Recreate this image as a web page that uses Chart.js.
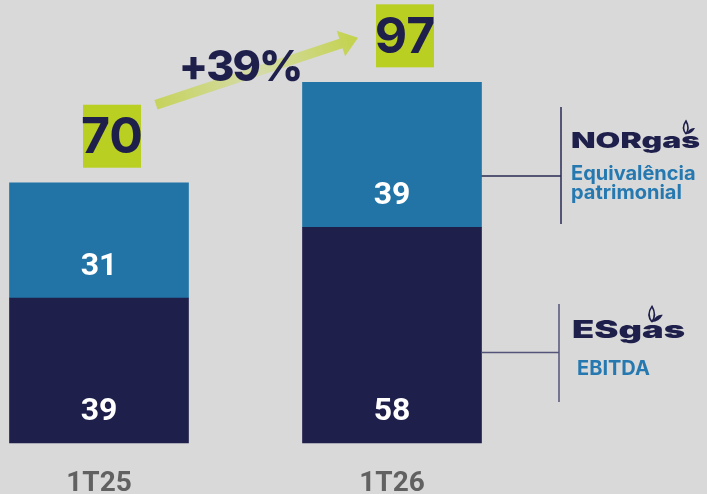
<!DOCTYPE html>
<html><head><meta charset="utf-8">
<script src="https://cdn.jsdelivr.net/npm/chart.js@4.4.1/dist/chart.umd.min.js"></script>
<style>html,body{margin:0;padding:0;background:#d9d9d9;}#wrap{width:707px;height:494px;position:relative;}</style>
</head><body><div id="wrap"><canvas id="c"></canvas></div>
<script>
const categories = ['1T25', '1T26'];
const ebitda = [39, 58];
const equivalencia = [31, 39];
const seriesNames = ['EBITDA', 'Equivalência patrimonial'];
const totals = categories.map((_, i) => ebitda[i] + equivalencia[i]);
const growthPct = Math.round((totals[1] / totals[0] - 1) * 100);

const NAVY = '#1f1f4c', BLUE = '#2174a5', LIME = '#b9cf22', TXTBLUE = '#2579b0';

function stretched(ctx, text, x, baseline, font, targetW, color) {
  ctx.save();
  ctx.font = font;
  const w = ctx.measureText(text).width;
  ctx.translate(x, baseline);
  ctx.scale(targetW / w, 1);
  ctx.fillStyle = color; ctx.textAlign = 'left'; ctx.textBaseline = 'alphabetic';
  ctx.fillText(text, 0, 0);
  ctx.restore();
}
function leaf(ctx, x, y, s) {
  ctx.save();
  ctx.translate(x, y);
  ctx.strokeStyle = NAVY; ctx.fillStyle = NAVY; ctx.lineWidth = 1.6;
  ctx.beginPath();
  ctx.moveTo(0, 0);
  ctx.quadraticCurveTo(-5 * s, -6 * s, 0, -13 * s);
  ctx.quadraticCurveTo(4 * s, -6 * s, 0, 0);
  ctx.stroke();
  ctx.beginPath();
  ctx.moveTo(0, 0);
  ctx.quadraticCurveTo(4 * s, -7 * s, 9 * s, -6 * s);
  ctx.quadraticCurveTo(6 * s, 0, 0, 0);
  ctx.fill();
  ctx.restore();
}

const overlay = {
  id: 'overlay',
  afterDatasetsDraw(chart) {
    const ctx = chart.ctx;
    const m0 = chart.getDatasetMeta(0), m1 = chart.getDatasetMeta(1);
    ctx.save();
    ctx.fillStyle = '#ffffff'; ctx.font = 'bold 32px Roboto';
    ctx.textAlign = 'center'; ctx.textBaseline = 'middle';
    [m0, m1].forEach((m, di) => {
      m.data.forEach((bar, i) => {
        ctx.fillText(String(chart.data.datasets[di].data[i]), bar.x, bar.base - 31);
      });
    });
    const boxes = [];
    m1.data.forEach((bar, i) => {
      const w = 58, h = 63, cx = bar.x + 13, bottom = bar.y - 15;
      boxes.push({ x: cx - w / 2, y: bottom - h, w, h, cx, cy: bottom - h / 2 });
      ctx.fillStyle = LIME; ctx.fillRect(cx - w / 2, bottom - h, w, h);
      ctx.fillStyle = NAVY; ctx.font = 'bold 50px Inter';
      ctx.textAlign = 'center'; ctx.textBaseline = 'middle';
      ctx.fillText(String(totals[i]), cx, bottom - h / 2 + 2);
    });
    const b0 = boxes[0], b1 = boxes[1];
    const tx = b0.x + b0.w + 15, ty = b0.y;
    const px = b1.x - 18, py = b1.cy + 2;
    const ang = Math.atan2(py - ty, px - tx), L = Math.hypot(px - tx, py - ty);
    ctx.save();
    ctx.translate(tx, ty); ctx.rotate(ang);
    const g2 = ctx.createLinearGradient(0, 0, L, 0);
    g2.addColorStop(0, '#c6d35c'); g2.addColorStop(0.5, '#d5dbaa'); g2.addColorStop(1, '#c3d24b');
    ctx.fillStyle = g2;
    const hl = 18, hw = 13.5, sw = 5;
    ctx.beginPath();
    ctx.moveTo(0, -sw); ctx.lineTo(L - hl, -sw); ctx.lineTo(L - hl, -hw); ctx.lineTo(L, 0);
    ctx.lineTo(L - hl, hw); ctx.lineTo(L - hl, sw); ctx.lineTo(0, sw); ctx.closePath();
    ctx.fill();
    ctx.restore();
    ctx.fillStyle = NAVY; ctx.font = '800 43px Inter';
    ctx.textAlign = 'center'; ctx.textBaseline = 'middle';
    try { ctx.letterSpacing = '-2px'; } catch (e) {}
    ctx.fillText('+' + growthPct + '%', 240, 68);
    try { ctx.letterSpacing = '0px'; } catch (e) {}

    const top1 = m1.data[1], bot1 = m0.data[1];
    ctx.lineWidth = 1.5;
    ctx.strokeStyle = '#2a2a55';
    ctx.beginPath();
    ctx.moveTo(top1.x + top1.width / 2, 176); ctx.lineTo(561, 176);
    ctx.moveTo(561, 107); ctx.lineTo(561, 224);
    ctx.stroke();
    ctx.strokeStyle = '#54547a';
    ctx.beginPath();
    ctx.moveTo(bot1.x + bot1.width / 2, 352.5); ctx.lineTo(559, 352.5);
    ctx.moveTo(559, 304); ctx.lineTo(559, 402);
    ctx.stroke();

    stretched(ctx, 'NORgas', 571, 148, '900 22px Inter', 129, NAVY);
    leaf(ctx, 686, 134, 1);
    stretched(ctx, 'ESgas', 572, 338, '900 24px Inter', 113, NAVY);
    leaf(ctx, 652, 322, 1.2);
    ctx.fillStyle = TXTBLUE; ctx.font = 'bold 20px Inter';
    ctx.textAlign = 'left'; ctx.textBaseline = 'alphabetic';
    ctx.fillText('Equivalência', 571, 180);
    ctx.fillText('patrimonial', 571, 199);
    ctx.fillText(seriesNames[0], 577, 375);
    ctx.restore();
  }
};

new Chart(document.getElementById('c'), {
  type: 'bar',
  data: {
    labels: categories,
    datasets: [
      { label: seriesNames[0], data: ebitda, backgroundColor: NAVY, borderWidth: 0, barThickness: 179, clip: false },
      { label: seriesNames[1], data: equivalencia, backgroundColor: BLUE, borderWidth: 0, barThickness: 179, clip: false }
    ]
  },
  options: {
    responsive: true, maintainAspectRatio: false, animation: false,
    layout: { padding: { left: 99, right: 315, top: 34, bottom: 0 } },
    plugins: { legend: { display: false }, tooltip: { enabled: false } },
    scales: {
      x: {
        stacked: true, offset: false,
        grid: { display: false, drawTicks: false }, border: { display: false },
        ticks: { color: '#616161', font: { family: 'Roboto', size: 28, weight: 'bold' }, padding: 24, maxRotation: 0 },
        afterFit(scale) { scale.height = 51; }
      },
      y: { stacked: true, display: false, min: 0, max: 110 }
    }
  },
  plugins: [overlay]
});
</script>
</body></html>
